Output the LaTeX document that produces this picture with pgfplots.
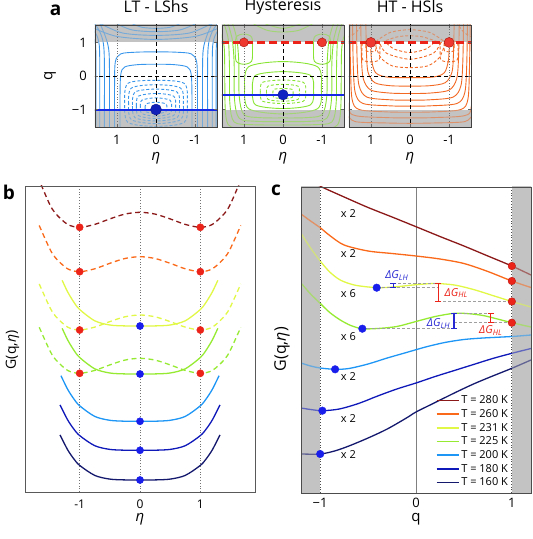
\documentclass[border=0pt]{standalone}
\usepackage{pgfplots}
\pgfplotsset{compat=1.18}
\usepackage{fontspec}
\setmainfont{Open Sans}
\definecolor{cA}{RGB}{55,150,235}
\definecolor{cB}{RGB}{135,228,50}
\definecolor{cC}{RGB}{242,105,35}
\definecolor{c280}{RGB}{140,25,25}
\definecolor{c260}{RGB}{250,105,25}
\definecolor{c231}{RGB}{225,248,70}
\definecolor{c225}{RGB}{150,235,50}
\definecolor{c200}{RGB}{30,150,245}
\definecolor{c180}{RGB}{15,25,185}
\definecolor{c160}{RGB}{20,25,110}
\definecolor{dotred}{RGB}{235,35,25}
\definecolor{dotblue}{RGB}{25,30,235}
\definecolor{lineblue}{RGB}{20,40,230}
\definecolor{labblue}{RGB}{40,40,210}
\definecolor{bandgray}{RGB}{195,195,195}
\pgfplotsset{
 pa/.style={scale only axis, width=122pt, height=102pt, anchor=south west,
  xmin=-1.56, xmax=1.56, ymin=-1.52, ymax=1.52, x dir=reverse,
  xtick={-1,0,1}, xticklabels={-1,0,1}, ytick={-1,0,1},
  axis on top, axis line style={black!75, line width=0.7pt},
  tick style={black!60, line width=0.6pt}, major tick length=3pt, tick align=inside,
  ticklabel style={font=\fontsize{13}{15}\selectfont, inner sep=0pt},
  xticklabel style={anchor=center, yshift=-13pt},
  yticklabel style={anchor=east, xshift=-8pt},
  title style={at={(axis description cs:0.5,1.118)}, anchor=center, font=\fontsize{16}{18}\selectfont, inner sep=0pt},
  xlabel={\textit{η}},
  xlabel style={at={(axis description cs:0.5,-0.31)}, anchor=center, font=\fontsize{15}{17}\selectfont, inner sep=0pt},
  /pgf/number format/assume math mode=true},
 ct/.style={smooth, line width=0.9pt},
 dt/.style={smooth, line width=0.9pt, dash pattern=on 3pt off 2pt},
 band/.style={draw=none, fill=bandgray},
 bandover/.style={draw=none, fill=bandgray, fill opacity=0.45},
 bdash/.style={black, line width=0.9pt, dash pattern=on 4pt off 3pt},
 gdot/.style={black!55, dotted, line width=0.7pt},
 ann/.style={gray!75, line width=0.9pt, dash pattern=on 3pt off 2pt, forget plot},
}
\begin{document}
\begin{tikzpicture}
\path[use as bounding box] (0pt,0pt) rectangle (533pt,539pt);
\node[font=\fontsize{19}{19}\selectfont\bfseries] at (55.5pt,528.5pt) {a};
\node[font=\fontsize{19}{19}\selectfont\bfseries] at (9pt,347pt) {b};
\node[font=\fontsize{19}{19}\selectfont\bfseries] at (276pt,349pt) {c};

% ---------------- panel a1 : LT - LShs
\begin{axis}[pa, at={(95pt,412pt)}, title={LT - LShs}, yticklabels={−1,0,1},
  ylabel={q}, ylabel style={at={(axis description cs:-0.369,0.5)}, anchor=center, font=\fontsize{15}{17}\selectfont, inner sep=0pt}]
\addplot[band] coordinates {(-1.7,1)(1.7,1)(1.7,1.7)(-1.7,1.7)} -- cycle;
\addplot[band] coordinates {(-1.7,-1)(1.7,-1)(1.7,-1.7)(-1.7,-1.7)} -- cycle;
\addplot[cA,ct] coordinates {(-0.6,1.55)(-0.35,1.45)(0,1.42)(0.35,1.45)(0.6,1.55)};
\addplot[cA,ct] coordinates {(-1.0,1.55)(-0.6,1.37)(0,1.32)(0.6,1.37)(1.0,1.55)};
\addplot[cA,ct] coordinates {(-1.4,1.55)(-0.85,1.28)(0,1.21)(0.85,1.28)(1.4,1.55)};
\addplot[cA,ct] coordinates {(-1.6,1.43)(-1.0,1.18)(0,1.09)(1.0,1.18)(1.6,1.43)};
\addplot[cA,ct] coordinates {(-0.92,-1.6)(-0.92,-0.6)(-0.9,0.05)(-0.8,0.27)(-0.45,0.34)(0,0.35)(0.45,0.34)(0.8,0.27)(0.9,0.05)(0.92,-0.6)(0.92,-1.6)};
\addplot[cA,ct] coordinates {(-1.06,-1.6)(-1.06,-0.3)(-1.04,0.42)(-0.9,0.66)(-0.5,0.71)(0,0.72)(0.5,0.71)(0.9,0.66)(1.04,0.42)(1.06,-0.3)(1.06,-1.6)};
\addplot[cA,ct] coordinates {(1.19,-1.6)(1.19,0.2)(1.21,0.8)(1.3,1.2)(1.45,1.6)};
\addplot[cA,ct] coordinates {(1.32,-1.6)(1.32,0.4)(1.35,1.0)(1.45,1.35)(1.6,1.6)};
\addplot[cA,ct] coordinates {(1.44,-1.6)(1.44,0.6)(1.48,1.1)(1.6,1.4)};
\addplot[cA,ct] coordinates {(1.54,-1.6)(1.54,0.8)(1.6,1.1)};
\addplot[cA,ct] coordinates {(-1.19,-1.6)(-1.19,0.2)(-1.21,0.8)(-1.3,1.2)(-1.45,1.6)};
\addplot[cA,ct] coordinates {(-1.32,-1.6)(-1.32,0.4)(-1.35,1.0)(-1.45,1.35)(-1.6,1.6)};
\addplot[cA,ct] coordinates {(-1.44,-1.6)(-1.44,0.6)(-1.48,1.1)(-1.6,1.4)};
\addplot[cA,ct] coordinates {(-1.54,-1.6)(-1.54,0.8)(-1.6,1.1)};
\addplot[cA,dt] coordinates {(0.8,-0.8)(0.72,-0.22)(0,-0.13)(-0.72,-0.22)(-0.8,-0.8)(-0.72,-1.38)(0,-1.5)(0.72,-1.38)(0.8,-0.8)};
\addplot[cA,dt] coordinates {(0.7,-0.83)(0.63,-0.36)(0,-0.26)(-0.63,-0.36)(-0.7,-0.83)(-0.63,-1.3)(0,-1.42)(0.63,-1.3)(0.7,-0.83)};
\addplot[cA,dt] coordinates {(0.6,-0.86)(0.54,-0.48)(0,-0.39)(-0.54,-0.48)(-0.6,-0.86)(-0.54,-1.24)(0,-1.34)(0.54,-1.24)(0.6,-0.86)};
\addplot[cA,dt] coordinates {(0.5,-0.89)(0.45,-0.6)(0,-0.52)(-0.45,-0.6)(-0.5,-0.89)(-0.45,-1.18)(0,-1.27)(0.45,-1.18)(0.5,-0.89)};
\addplot[cA,dt] coordinates {(0.4,-0.92)(0.36,-0.72)(0,-0.65)(-0.36,-0.72)(-0.4,-0.92)(-0.36,-1.12)(0,-1.2)(0.36,-1.12)(0.4,-0.92)};
\addplot[cA,dt] coordinates {(0.28,-0.95)(0.25,-0.83)(0,-0.78)(-0.25,-0.83)(-0.28,-0.95)(-0.25,-1.07)(0,-1.12)(0.25,-1.07)(0.28,-0.95)};
\addplot[bandover] coordinates {(-1.7,1)(1.7,1)(1.7,1.7)(-1.7,1.7)} -- cycle;
\addplot[bandover] coordinates {(-1.7,-1)(1.7,-1)(1.7,-1.7)(-1.7,-1.7)} -- cycle;
\addplot[gdot] coordinates {(1,-1.6)(1,1.6)};
\addplot[gdot] coordinates {(-1,-1.6)(-1,1.6)};
\addplot[bdash] coordinates {(0,-1.6)(0,1.6)};
\addplot[bdash] coordinates {(-1.7,0)(1.7,0)};
\addplot[lineblue, line width=2pt] coordinates {(-1.7,-1)(1.7,-1)};
\addplot[only marks, mark=*, mark size=5.5pt, mark options={fill=lineblue!80!black, draw=lineblue!60!black}] coordinates {(0,-1)};
\end{axis}

% ---------------- panel a2 : Hysteresis
\begin{axis}[pa, at={(222pt,412pt)}, title={Hysteresis}, yticklabels={}]
\addplot[band] coordinates {(-1.7,1)(1.7,1)(1.7,1.7)(-1.7,1.7)} -- cycle;
\addplot[band] coordinates {(-1.7,-1)(1.7,-1)(1.7,-1.7)(-1.7,-1.7)} -- cycle;
\addplot[cB,dt] coordinates {(0.58,-0.47)(0.522,-0.19)(0,-0.12)(-0.522,-0.19)(-0.58,-0.47)(-0.522,-0.75)(0,-0.82)(0.522,-0.75)(0.58,-0.47)};
\addplot[cB,dt] coordinates {(0.42,-0.5)(0.378,-0.3)(0,-0.25)(-0.378,-0.3)(-0.42,-0.5)(-0.378,-0.7)(0,-0.75)(0.378,-0.7)(0.42,-0.5)};
\addplot[cB,dt] coordinates {(0.26,-0.52)(0.234,-0.4)(0,-0.37)(-0.234,-0.4)(-0.26,-0.52)(-0.234,-0.64)(0,-0.67)(0.234,-0.64)(0.26,-0.52)};
\addplot[cB,ct] coordinates {(0.78,-0.42)(0.702,0.02)(0,0.13)(-0.702,0.02)(-0.78,-0.42)(-0.702,-0.86)(0,-0.97)(0.702,-0.86)(0.78,-0.42)};
\addplot[cB,ct] coordinates {(0.98,-0.35)(0.882,0.274)(0,0.43)(-0.882,0.274)(-0.98,-0.35)(-0.882,-0.974)(0,-1.13)(0.882,-0.974)(0.98,-0.35)};
\addplot[cB,ct] coordinates {(-1.3,1.6)(-1.18,1.1)(-1.13,0.4)(-1.12,-0.6)(-1.0,-1.15)(-0.6,-1.24)(0,-1.25)(0.6,-1.24)(1.0,-1.15)(1.12,-0.6)(1.13,0.4)(1.18,1.1)(1.3,1.6)};
\addplot[cB,ct] coordinates {(-1.42,1.6)(-1.3,1.1)(-1.25,0.4)(-1.24,-0.7)(-1.12,-1.26)(-0.7,-1.35)(0,-1.36)(0.7,-1.35)(1.12,-1.26)(1.24,-0.7)(1.25,0.4)(1.3,1.1)(1.42,1.6)};
\addplot[cB,ct] coordinates {(-1.52,1.6)(-1.4,1.1)(-1.37,0.3)(-1.36,-0.8)(-1.25,-1.37)(-0.8,-1.45)(0,-1.46)(0.8,-1.45)(1.25,-1.37)(1.36,-0.8)(1.37,0.3)(1.4,1.1)(1.52,1.6)};
\addplot[cB,ct] coordinates {(-1.6,1.3)(-1.5,0.8)(-1.48,-0.9)(-1.4,-1.45)(-1.1,-1.6)};
\addplot[cB,ct] coordinates {(1.6,1.3)(1.5,0.8)(1.48,-0.9)(1.4,-1.45)(1.1,-1.6)};
\addplot[cB,ct] coordinates {(1.22,0.8)(1.198,1.16)(1,1.25)(0.802,1.16)(0.78,0.8)(0.802,0.44)(1,0.35)(1.198,0.44)(1.22,0.8)};
\addplot[cB,ct] coordinates {(-1.22,0.8)(-1.198,1.16)(-1,1.25)(-0.802,1.16)(-0.78,0.8)(-0.802,0.44)(-1,0.35)(-1.198,0.44)(-1.22,0.8)};
\addplot[cB,ct] coordinates {(-0.75,1.55)(-0.4,1.36)(0,1.31)(0.4,1.36)(0.75,1.55)};
\addplot[cB,ct] coordinates {(-0.45,1.55)(0,1.42)(0.45,1.55)};
\addplot[bandover] coordinates {(-1.7,1)(1.7,1)(1.7,1.7)(-1.7,1.7)} -- cycle;
\addplot[bandover] coordinates {(-1.7,-1)(1.7,-1)(1.7,-1.7)(-1.7,-1.7)} -- cycle;
\addplot[gdot] coordinates {(1,-1.6)(1,1.6)};
\addplot[gdot] coordinates {(-1,-1.6)(-1,1.6)};
\addplot[bdash] coordinates {(0,-1.6)(0,1.6)};
\addplot[bdash] coordinates {(-1.7,0)(1.7,0)};
\addplot[dotred, line width=2.5pt, dash pattern=on 8pt off 4pt] coordinates {(-1.7,1)(1.7,1)};
\addplot[lineblue, line width=2pt] coordinates {(-1.7,-0.56)(1.7,-0.56)};
\addplot[only marks, mark=*, mark size=4.5pt, mark options={fill=dotred!90!white, draw=dotred!70!black}] coordinates {(-1,1)(1,1)};
\addplot[only marks, mark=*, mark size=5.2pt, mark options={fill=lineblue!85!black, draw=lineblue!60!black}] coordinates {(0,-0.56)};
\end{axis}

% ---------------- panel a3 : HT - HSls
\begin{axis}[pa, at={(349pt,412pt)}, title={HT - HSls}, yticklabels={}]
\addplot[band] coordinates {(-1.7,1)(1.7,1)(1.7,1.7)(-1.7,1.7)} -- cycle;
\addplot[band] coordinates {(-1.7,-1)(1.7,-1)(1.7,-1.7)(-1.7,-1.7)} -- cycle;
\addplot[cC,ct] coordinates {(-1.0,0.8)(-0.98,0.45)(-0.88,0.1)(-0.6,-0.03)(0,-0.05)(0.6,-0.03)(0.88,0.1)(0.98,0.45)(1.0,0.8)};
\addplot[cC,ct] coordinates {(-1.13,1.6)(-1.11,0.6)(-1.07,0.1)(-0.9,-0.2)(-0.5,-0.29)(0,-0.3)(0.5,-0.29)(0.9,-0.2)(1.07,0.1)(1.11,0.6)(1.13,1.6)};
\addplot[cC,ct] coordinates {(-1.26,1.6)(-1.24,0.5)(-1.19,-0.1)(-1.0,-0.42)(-0.5,-0.51)(0,-0.52)(0.5,-0.51)(1.0,-0.42)(1.19,-0.1)(1.24,0.5)(1.26,1.6)};
\addplot[cC,ct] coordinates {(-1.37,1.6)(-1.35,0.4)(-1.3,-0.3)(-1.1,-0.63)(-0.5,-0.71)(0,-0.72)(0.5,-0.71)(1.1,-0.63)(1.3,-0.3)(1.35,0.4)(1.37,1.6)};
\addplot[cC,ct] coordinates {(-1.47,1.6)(-1.45,0.3)(-1.4,-0.5)(-1.2,-0.82)(-0.5,-0.89)(0,-0.9)(0.5,-0.89)(1.2,-0.82)(1.4,-0.5)(1.45,0.3)(1.47,1.6)};
\addplot[cC,ct] coordinates {(-1.54,1.6)(-1.52,0.2)(-1.48,-0.7)(-1.3,-1.0)(-0.6,-1.07)(0,-1.08)(0.6,-1.07)(1.3,-1.0)(1.48,-0.7)(1.52,0.2)(1.54,1.6)};
\addplot[cC,ct] coordinates {(-1.6,0.5)(-1.57,-0.9)(-1.4,-1.18)(-0.6,-1.24)(0,-1.25)(0.6,-1.24)(1.4,-1.18)(1.57,-0.9)(1.6,0.5)};
\addplot[cC,ct] coordinates {(-1.6,-1.15)(-1.4,-1.36)(-0.6,-1.4)(0,-1.41)(0.6,-1.4)(1.4,-1.36)(1.6,-1.15)};
\addplot[cC,dt] coordinates {(-0.9,0.98)(-0.75,0.55)(-0.45,0.3)(0,0.25)(0.45,0.3)(0.75,0.55)(0.9,0.98)};
\addplot[cC,dt] coordinates {(-0.78,1.0)(-0.6,0.68)(0,0.5)(0.6,0.68)(0.78,1.0)};
\addplot[cC,dt] coordinates {(-0.62,1.0)(-0.4,0.8)(0,0.7)(0.4,0.8)(0.62,1.0)};
\addplot[cC,dt] coordinates {(1.13,0.88)(1.117,1.01)(1,1.04)(0.883,1.01)(0.87,0.88)(0.883,0.75)(1,0.72)(1.117,0.75)(1.13,0.88)};
\addplot[cC,dt] coordinates {(-1.13,0.88)(-1.117,1.01)(-1,1.04)(-0.883,1.01)(-0.87,0.88)(-0.883,0.75)(-1,0.72)(-1.117,0.75)(-1.13,0.88)};
\addplot[cC,dt] coordinates {(1.23,0.74)(1.207,1.0)(1,1.06)(0.793,1.0)(0.77,0.74)(0.793,0.48)(1,0.42)(1.207,0.48)(1.23,0.74)};
\addplot[cC,dt] coordinates {(-1.23,0.74)(-1.207,1.0)(-1,1.06)(-0.793,1.0)(-0.77,0.74)(-0.793,0.48)(-1,0.42)(-1.207,0.48)(-1.23,0.74)};
\addplot[cC,dt] coordinates {(-0.85,1.05)(-0.5,1.3)(0,1.38)(0.5,1.3)(0.85,1.05)};
\addplot[cC,dt] coordinates {(-0.7,1.02)(-0.35,1.16)(0,1.2)(0.35,1.16)(0.7,1.02)};
\addplot[cC,dt] coordinates {(1.6,1.15)(1.38,1.3)(1.22,1.55)};
\addplot[cC,dt] coordinates {(-1.6,1.15)(-1.38,1.3)(-1.22,1.55)};
\addplot[bandover] coordinates {(-1.7,1)(1.7,1)(1.7,1.7)(-1.7,1.7)} -- cycle;
\addplot[bandover] coordinates {(-1.7,-1)(1.7,-1)(1.7,-1.7)(-1.7,-1.7)} -- cycle;
\addplot[gdot] coordinates {(1,-1.6)(1,1.6)};
\addplot[gdot] coordinates {(-1,-1.6)(-1,1.6)};
\addplot[bdash] coordinates {(0,-1.6)(0,1.6)};
\addplot[bdash] coordinates {(-1.7,0)(1.7,0)};
\addplot[dotred, line width=2.5pt, dash pattern=on 8pt off 4pt] coordinates {(-1.7,1)(1.7,1)};
\addplot[only marks, mark=*, mark size=5pt, mark options={fill=dotred!90!white, draw=dotred!70!black}] coordinates {(-1,1)(1,1)};
\end{axis}

% ---------------- panel b
\begin{axis}[scale only axis, width=230pt, height=306pt, at={(25pt,47pt)}, anchor=south west,
  xmin=-1.906, xmax=1.906, ymin=0, ymax=306, xtick={-1,0,1}, xticklabels={-1,0,1}, ytick=\empty,
  axis on top, axis line style={black!65, line width=0.7pt}, major tick length=0pt,
  ticklabel style={font=\fontsize{12}{14}\selectfont, inner sep=0pt},
  xticklabel style={anchor=center, yshift=-12.5pt},
  xlabel={\textit{η}}, xlabel style={at={(axis description cs:0.5,-0.09)}, anchor=center, font=\fontsize{15}{17}\selectfont, inner sep=0pt},
  ylabel={G(q,\textit{η})}, ylabel style={at={(axis description cs:-0.054,0.464)}, anchor=center, font=\fontsize{14}{16}\selectfont, inner sep=0pt},
  /pgf/number format/assume math mode=true]
\addplot[gdot, line width=0.8pt] coordinates {(-1,0)(-1,306)};
\addplot[gdot, line width=0.8pt] coordinates {(0,0)(0,306)};
\addplot[gdot, line width=0.8pt] coordinates {(1,0)(1,306)};
\addplot[c280, smooth, line width=1.3pt, dash pattern=on 5pt off 3.5pt] coordinates {(-1.64,307.5)(-1.5,288.1)(-1.4,278.5)(-1.2,267.6)(-1,264.7)(-0.75,267.6)(-0.5,273.1)(-0.25,277.9)(0,279.7)(0.25,277.9)(0.5,273.1)(0.75,267.6)(1,264.7)(1.2,267.6)(1.4,278.5)(1.5,288.1)(1.64,307.5)};
\addplot[c260, smooth, line width=1.3pt, dash pattern=on 5pt off 3.5pt] coordinates {(-1.67,266.5)(-1.5,243.7)(-1.4,234.1)(-1.2,223.2)(-1,220.3)(-0.75,223.2)(-0.5,228.7)(-0.25,233.5)(0,235.3)(0.25,233.5)(0.5,228.7)(0.75,223.2)(1,220.3)(1.2,223.2)(1.4,234.1)(1.5,243.7)(1.67,266.5)};
\addplot[c231, smooth, line width=1.3pt, dash pattern=on 5pt off 3.5pt] coordinates {(-1.67,208)(-1.5,185.4)(-1.4,175.8)(-1.2,164.9)(-1,162)(-0.75,164.9)(-0.5,170.4)(-0.25,175.2)(0,177)(0.25,175.2)(0.5,170.4)(0.75,164.9)(1,162)(1.2,164.9)(1.4,175.8)(1.5,185.4)(1.67,208)};
\addplot[c231, smooth, line width=1.3pt] coordinates {(-1.29,211.7)(-1.2,200.2)(-1.1,190.2)(-1,182.5)(-0.75,171.2)(-0.5,167)(-0.25,166.1)(0,166)(0.25,166.1)(0.5,167)(0.75,171.2)(1,182.5)(1.1,190.2)(1.2,200.2)(1.29,211.7)};
\addplot[c225, smooth, line width=1.3pt, dash pattern=on 5pt off 3.5pt] coordinates {(-1.67,164.7)(-1.5,142.1)(-1.4,132.5)(-1.2,121.6)(-1,118.7)(-0.75,121.6)(-0.5,127.1)(-0.25,131.9)(0,133.7)(0.25,131.9)(0.5,127.1)(0.75,121.6)(1,118.7)(1.2,121.6)(1.4,132.5)(1.5,142.1)(1.67,164.7)};
\addplot[c225, smooth, line width=1.3pt] coordinates {(-1.29,163.7)(-1.2,152.2)(-1.1,142.2)(-1,134.5)(-0.75,123.2)(-0.5,119)(-0.25,118.1)(0,118)(0.25,118.1)(0.5,119)(0.75,123.2)(1,134.5)(1.1,142.2)(1.2,152.2)(1.29,163.7)};
\addplot[c200, smooth, line width=1.3pt] coordinates {(-1.31,116.3)(-1.2,102.8)(-1.1,93.4)(-1,86.2)(-0.75,75.6)(-0.5,71.7)(-0.25,70.8)(0,70.7)(0.25,70.8)(0.5,71.7)(0.75,75.6)(1,86.2)(1.1,93.4)(1.2,102.8)(1.31,116.3)};
\addplot[c180, smooth, line width=1.3pt] coordinates {(-1.326,87.1)(-1.2,72.2)(-1.1,63.2)(-1,56.4)(-0.75,46.3)(-0.5,42.6)(-0.25,41.8)(0,41.7)(0.25,41.8)(0.5,42.6)(0.75,46.3)(1,56.4)(1.1,63.2)(1.2,72.2)(1.326,87.1)};
\addplot[c160, smooth, line width=1.3pt] coordinates {(-1.326,57.1)(-1.2,42.3)(-1.1,33.4)(-1,26.6)(-0.75,16.6)(-0.5,12.9)(-0.25,12.1)(0,12)(0.25,12.1)(0.5,12.9)(0.75,16.6)(1,26.6)(1.1,33.4)(1.2,42.3)(1.326,57.1)};
\addplot[only marks, mark=*, mark size=3.6pt, mark options={fill=dotred, draw=dotred}] coordinates {(-1,264.7)(1,264.7)(-1,220.3)(1,220.3)(-1,162)(1,162)(-1,118.7)(1,118.7)};
\addplot[only marks, mark=*, mark size=3.6pt, mark options={fill=dotblue, draw=dotblue}] coordinates {(0,166)(0,118)(0,70.7)(0,41.7)(0,12)};
\end{axis}

% ---------------- panel c
\begin{axis}[scale only axis, width=230pt, height=306pt, at={(301pt,46pt)}, anchor=south west,
  xmin=-1.2, xmax=1.2, ymin=0, ymax=306, xtick={-1,0,1}, xticklabels={−1,0,1}, ytick=\empty,
  axis on top, axis line style={black!70, line width=0.7pt}, major tick length=0pt,
  ticklabel style={font=\fontsize{13}{15}\selectfont, inner sep=0pt},
  xticklabel style={anchor=center, yshift=-9.5pt},
  xlabel={q}, xlabel style={at={(axis description cs:0.5,-0.086)}, anchor=center, font=\fontsize{15}{17}\selectfont, inner sep=0pt},
  ylabel={G(q,\textit{η})}, ylabel style={at={(axis description cs:-0.083,0.47)}, anchor=center, font=\fontsize{16}{18}\selectfont, inner sep=0pt},
  legend style={draw=none, fill=none, at={(axis description cs:0.585,0.325)}, anchor=north west, font=\fontsize{11}{12}\selectfont, row sep=0.2pt, inner sep=0pt},
  legend cell align=left,
  legend image code/.code={\draw[#1, line width=1.6pt] (0pt,0pt) -- (22pt,0pt);},
  /pgf/number format/assume math mode=true]
\addplot[band, forget plot] coordinates {(-1.3,-5)(-1,-5)(-1,315)(-1.3,315)} -- cycle;
\addplot[band, forget plot] coordinates {(1,-5)(1.3,-5)(1.3,315)(1,315)} -- cycle;
\addplot[black!50, line width=0.9pt, forget plot] coordinates {(0,0)(0,306)};
\addplot[c280, smooth, line width=1.3pt] coordinates {(-1.03,308.5)(-0.99,306.3)(-0.75,296)(-0.5,285.5)(-0.25,276)(0,266.3)(0.25,256.5)(0.5,247)(0.75,237)(1.0,227)(1.2,218)};
\addlegendentry{T = 280 K}
\addplot[c260, smooth, line width=1.3pt] coordinates {(-1.2,279)(-1.1,272)(-1.0,265.3)(-0.9,257.5)(-0.75,248)(-0.5,242)(-0.25,239.5)(0,237)(0.25,234)(0.5,229.5)(0.75,221.5)(1.0,212)(1.2,205.5)};
\addlegendentry{T = 260 K}
\addplot[c231, smooth, line width=1.3pt] coordinates {(-1.2,259.7)(-1.1,245)(-1.0,232)(-0.9,221)(-0.8,213.5)(-0.7,209.5)(-0.6,207.2)(-0.4,205.3)(-0.2,206.3)(0,208.3)(0.2,209.5)(0.4,208)(0.6,203.5)(0.8,197.5)(1,191.5)(1.2,186)};
\addlegendentry{T = 231 K}
\addplot[c225, smooth, line width=1.3pt] coordinates {(-1.2,210)(-1.1,199)(-1.0,189.7)(-0.9,180.5)(-0.79,173)(-0.68,167.5)(-0.56,164.3)(-0.4,164.5)(-0.2,166.5)(0,171.5)(0.2,176.5)(0.4,179.7)(0.55,179.3)(0.7,177.5)(0.85,174)(1.0,170.3)(1.2,166)};
\addlegendentry{T = 225 K}
\addplot[c200, smooth, line width=1.3pt] coordinates {(-1.2,130)(-1.1,127)(-1.0,125)(-0.844,123.7)(-0.7,124.5)(-0.5,129)(-0.3,135)(-0.1,140.5)(0.1,146)(0.3,150.5)(0.5,153.5)(0.7,155)(1.0,156.5)(1.2,158)};
\addlegendentry{T = 200 K}
\addplot[c180, smooth, line width=1.3pt] coordinates {(-1.2,85)(-1.1,83.5)(-0.977,82.3)(-0.8,84)(-0.6,89.5)(-0.4,97)(-0.2,104)(0,110)(0.2,116.5)(0.4,122.5)(0.6,128.5)(0.8,134.5)(1.0,139.7)(1.2,144.5)};
\addlegendentry{T = 180 K}
\addplot[c160, smooth, line width=1.3pt] coordinates {(-1.2,39)(-1.0,39)(-0.85,42)(-0.7,47)(-0.5,55)(-0.3,64)(-0.1,75)(0,81)(0.2,90.5)(0.4,100)(0.6,109)(0.8,117)(1.0,124.7)(1.2,133)};
\addlegendentry{T = 160 K}
\addplot[bandover, forget plot] coordinates {(-1.3,-5)(-1,-5)(-1,315)(-1.3,315)} -- cycle;
\addplot[bandover, forget plot] coordinates {(1,-5)(1.3,-5)(1.3,315)(1,315)} -- cycle;
\addplot[black!70, dotted, line width=0.8pt, forget plot] coordinates {(-1,0)(-1,306)};
\addplot[black!70, dotted, line width=0.8pt, forget plot] coordinates {(1,0)(1,306)};
% annotations
\addplot[ann] coordinates {(-0.41,205.2)(0.233,205.2)};
\addplot[ann] coordinates {(-0.236,209.7)(0.233,209.7)};
\addplot[ann] coordinates {(0.233,191.5)(1,191.5)};
\addplot[ann] coordinates {(-0.56,164.3)(0.396,164.3)};
\addplot[ann] coordinates {(0.396,179.7)(0.778,179.7)};
\addplot[ann] coordinates {(0.396,170.3)(1,170.3)};
\addplot[labblue, line width=1.1pt, mark=-, mark size=3pt, forget plot] coordinates {(-0.236,205.2)(-0.236,209.7)};
\addplot[dotred, line width=1.1pt, mark=-, mark size=3pt, forget plot] coordinates {(0.233,191.5)(0.233,209.7)};
\addplot[labblue, line width=1.1pt, mark=-, mark size=3pt, forget plot] coordinates {(0.396,164.3)(0.396,179.7)};
\addplot[dotred, line width=1.1pt, mark=-, mark size=3pt, forget plot] coordinates {(0.778,170.3)(0.778,179.7)};
\node[text=labblue, font=\fontsize{11}{12}\selectfont] at (axis cs:-0.2,217.5) {\textit{ΔG\textsubscript{LH}}};
\node[text=dotred, font=\fontsize{11}{12}\selectfont] at (axis cs:0.42,200) {\textit{ΔG\textsubscript{HL}}};
\node[text=labblue, font=\fontsize{11}{12}\selectfont] at (axis cs:0.235,169.7) {\textit{ΔG\textsubscript{LH}}};
\node[text=dotred, font=\fontsize{11}{12}\selectfont] at (axis cs:0.78,162.5) {\textit{ΔG\textsubscript{HL}}};
\node[font=\fontsize{11}{13}\selectfont] at (axis cs:-0.706,279.7) {x 2};
\node[font=\fontsize{11}{13}\selectfont] at (axis cs:-0.706,239.7) {x 2};
\node[font=\fontsize{11}{13}\selectfont] at (axis cs:-0.706,199.7) {x 6};
\node[font=\fontsize{11}{13}\selectfont] at (axis cs:-0.706,156.3) {x 6};
\node[font=\fontsize{11}{13}\selectfont] at (axis cs:-0.706,116.3) {x 2};
\node[font=\fontsize{11}{13}\selectfont] at (axis cs:-0.706,74.7) {x 2};
\node[font=\fontsize{11}{13}\selectfont] at (axis cs:-0.706,38) {x 2};
\addplot[only marks, mark=*, mark size=3.8pt, mark options={fill=dotred, draw=dotred!80!black}, forget plot] coordinates {(1,227)(1,212)(1,191.5)(1,170.3)};
\addplot[only marks, mark=*, mark size=3.8pt, mark options={fill=dotblue, draw=dotblue}, forget plot] coordinates {(-0.41,205.3)(-0.56,164.3)(-0.844,123.7)(-0.977,82.3)(-1,39)};
\end{axis}
\end{tikzpicture}
\end{document}
